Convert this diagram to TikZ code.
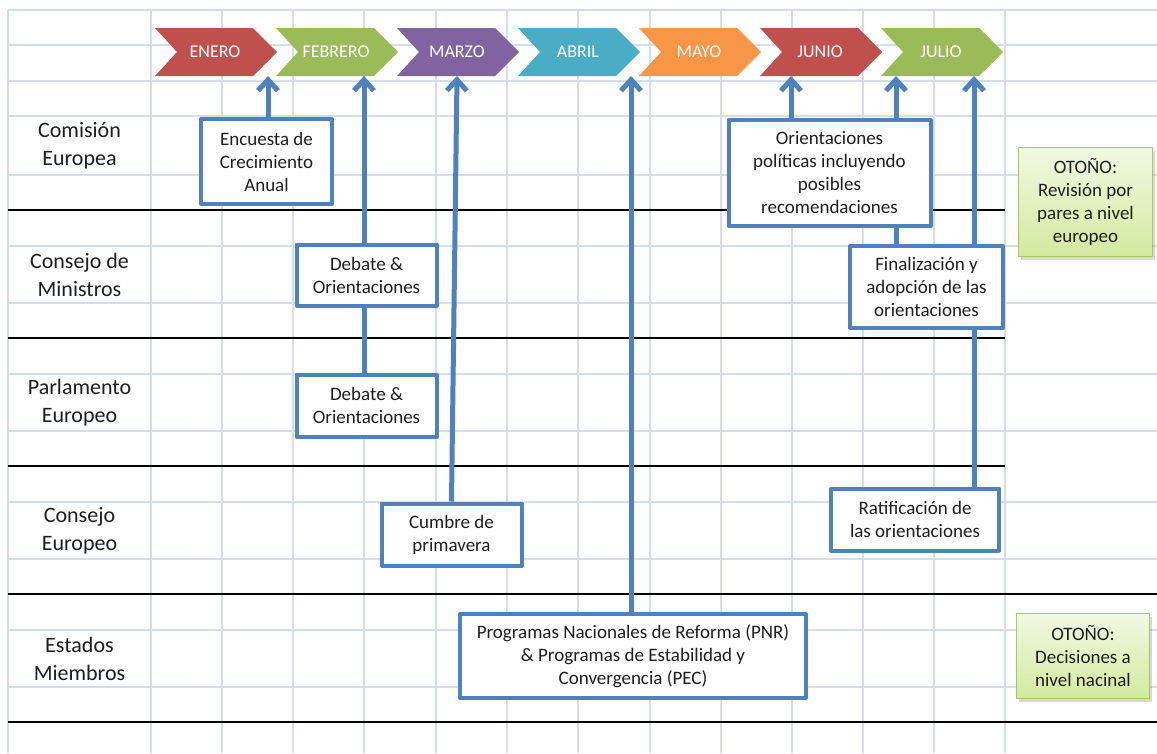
\documentclass[tikz,border=0pt]{standalone}
\usepackage{fontspec}
\setmainfont{Carlito}
\usetikzlibrary{arrows.meta,shadows}
\definecolor{gridc}{HTML}{D5DCEB}
\definecolor{boxblue}{HTML}{4F81BD}
\definecolor{cRed}{HTML}{C0504D}
\definecolor{cGreen}{HTML}{9BBB59}
\definecolor{cPurple}{HTML}{8064A2}
\definecolor{cAqua}{HTML}{4BACC6}
\definecolor{cOrange}{HTML}{F79646}
\definecolor{otoTop}{HTML}{F2F9E3}
\definecolor{otoBot}{HTML}{D2EA9E}
\definecolor{otoBorder}{HTML}{A6C763}
\definecolor{txt}{HTML}{1E1E1E}
\begin{document}
\begin{tikzpicture}[x=1pt,y=-1pt,
  gridline/.style={gridc,line width=1.6pt},
  sepline/.style={black,line width=1.4pt},
  lane/.style={font=\fontsize{22}{28}\selectfont,text=txt,align=center,inner sep=0pt},
  evbox/.style={draw=boxblue,line width=4pt,fill=white,align=center,inner sep=0pt,
    line join=round,font=\fontsize{19}{23}\selectfont,text=txt},
  otobox/.style={draw=otoBorder,line width=1pt,top color=otoTop,bottom color=otoBot,
    align=center,inner sep=0pt,font=\fontsize{19}{23}\selectfont,text=txt,
    drop shadow={opacity=0.3,shadow xshift=2pt,shadow yshift=-3pt}},
  month/.style={text=white,font=\fontsize{18}{20}\selectfont,inner sep=0pt},
  arr/.style={boxblue,line width=5pt,-{Straight Barb[length=11pt,width=20pt]}},
  link/.style={boxblue,line width=5pt}
]
\useasboundingbox (0,0) rectangle (1157,753);
\fill[white] (0,0) rectangle (1157,753);
% grid
\foreach \x in {8,151,222,293,364,436,507,578,650,721,792,863,934,1005}
  \draw[gridline] (\x,10) -- (\x,753);
\foreach \y in {10,45,81,116,175,246,303,374,431,502,559,630,687}
  \draw[gridline] (8,\y) -- (1157,\y);
\foreach \y in {210,338,466}
  \draw[sepline] (8,\y) -- (1005,\y);
\foreach \y in {594,722}
  \draw[sepline] (8,\y) -- (1157,\y);
% chevrons
\foreach \s/\c/\t/\n in {155/cRed/ENERO/m1,276/cGreen/FEBRERO/m2,397/cPurple/MARZO/m3,
  518/cAqua/ABRIL/m4,639/cOrange/MAYO/m5,760/cRed/JUNIO/m6,881/cGreen/JULIO/m7}{
  \fill[\c] (\s,28) -- (\s+98,28) -- (\s+122,52) -- (\s+98,76) -- (\s,76) -- (\s+22,52) -- cycle;
  \node[month] (\n) at (\s+60,52) {\t};
}
% lane labels
\node[lane] (l1) at (79.5,146) {Comisión\\Europea};
\node[lane] (l2) at (79.5,275) {Consejo de\\Ministros};
\node[lane] (l3) at (79.5,403) {Parlamento\\Europeo};
\node[lane] (l4) at (79.5,531) {Consejo\\Europeo};
\node[lane] (l5) at (79.5,659) {Estados\\Miembros};
% arrow tips
\coordinate (tEne) at (268,76);
\coordinate (tFeb) at (364,76);
\coordinate (tMar) at (457,76);
\coordinate (tAbr) at (631,76);
\coordinate (tJun) at (791,76);
\coordinate (tJul) at (896,76);
\coordinate (tJulb) at (974,76);
% boxes
\node[evbox,minimum width=131pt,minimum height=85pt] (enc) at (266.5,161.5) {Encuesta de\\Crecimiento\\Anual};
\node[evbox,minimum width=140pt,minimum height=61pt] (deb1) at (366.5,275) {Debate \&\\Orientaciones};
\node[evbox,minimum width=140pt,minimum height=62pt] (deb2) at (366.5,405.5) {Debate \&\\Orientaciones};
\node[evbox,minimum width=140pt,minimum height=62pt] (cum) at (451.5,534.5) {Cumbre de\\primavera};
\node[evbox,minimum width=202pt,minimum height=106pt] (ori) at (829.5,173) {Orientaciones\\políticas incluyendo\\posibles\\recomendaciones};
\node[evbox,minimum width=153pt,minimum height=82pt] (fin) at (926.5,287) {Finalización y\\adopción de las\\orientaciones};
\node[evbox,minimum width=168pt,minimum height=62pt] (rat) at (915,519.5) {Ratificación de\\las orientaciones};
\node[evbox,minimum width=346pt,minimum height=84pt] (pnr) at (633,656) {Programas Nacionales de Reforma (PNR)\\\& Programas de Estabilidad y\\Convergencia (PEC)};
\node[otobox,minimum width=134pt,minimum height=109pt] (oto1) at (1085.5,202) {OTOÑO:\\Revisión por\\pares a nivel\\europeo};
\node[otobox,minimum width=133pt,minimum height=85pt] (oto2) at (1083,656) {OTOÑO:\\Decisiones a\\nivel nacinal};
% connectors
\begin{scope}[on background layer/.style={}]
\draw[arr] (enc.north -| tEne) -- (tEne);
\draw[arr] (deb1.north -| tFeb) -- (tFeb);
\draw[link] (deb2.north -| tFeb) -- (deb1.south -| tFeb);
\draw[arr] (cum.north) -- (tMar);
\draw[arr] (pnr.north -| tAbr) -- (tAbr);
\draw[arr] (ori.north -| tJun) -- (tJun);
\draw[arr] (ori.north -| tJul) -- (tJul);
\draw[link] (fin.north -| tJul) -- (ori.south -| tJul);
\draw[arr] (fin.north -| tJulb) -- (tJulb);
\draw[link] (rat.north -| tJulb) -- (fin.south -| tJulb);
\end{scope}
\end{tikzpicture}
\end{document}
